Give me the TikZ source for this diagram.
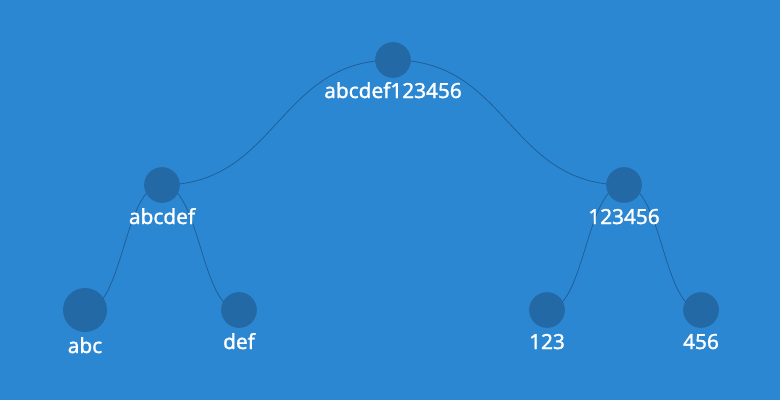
\documentclass[tikz,border=0pt]{standalone}
\usepackage{fontspec}
\setmainfont{Noto Sans}[BoldFont={Noto Sans}, BoldFeatures={FakeBold=1.3}]
\usetikzlibrary{positioning}

\definecolor{bgblue}{HTML}{2C87D3}
\definecolor{nodeblue}{HTML}{2369A6}
\definecolor{edgeblue}{HTML}{215F96}

\pgfdeclarelayer{edgelayer}
\pgfsetlayers{edgelayer,main}

\begin{document}
\begin{tikzpicture}[x=0.75pt,y=-0.75pt,
    treenode/.style={circle,
                     fill=nodeblue,
                     inner sep=0pt,
                     minimum size=26.8pt},
    bignode/.style={treenode,
                    minimum size=33pt},
    treelabel/.style={text=white,
                      font=\fontsize{15.6}{18}\selectfont\bfseries,
                      anchor=base,
                      inner sep=0pt},
    treeedge/.style={draw=edgeblue,
                     line width=0.6pt}]
%    \draw (0,0) -- (780,400);
    \useasboundingbox (0,0) rectangle (780,400);

    % circles
    \node[treenode] (root) at (393,60) {};
    \node[treenode] (abcdef) at (162,185) {};
    \node[treenode] (n123456) at (624,185) {};
    \node[bignode] (abc) at (85,310) {};
    \node[treenode] (def) at (239,310) {};
    \node[treenode] (n123) at (547,310) {};
    \node[treenode] (n456) at (701,310) {};

    % texts
    \node[treelabel] (root-text) at (393,98) {abcdef123456};
    \node[treelabel] (abcdef-text) at (162,224) {abcdef};
    \node[treelabel] (n123456-text) at (624,224) {123456};
    \node[treelabel] (abc-text) at (85,353) {abc};
    \node[treelabel] (def-text) at (239,349) {def};
    \node[treelabel] (n123-text) at (547,349) {123};
    \node[treelabel] (n456-text) at (701,349) {456};

    \begin{pgfonlayer}{edgelayer}
      \fill[bgblue] (0,0) rectangle (780,400);
      \draw[treeedge] (root.center) .. controls +(-115.5,0) and +(115.5,0) .. (abcdef.center);
      \draw[treeedge] (root.center) .. controls +(115.5,0) and +(-115.5,0) .. (n123456.center);
      \draw[treeedge] (abcdef.center) .. controls +(-38.5,0) and +(38.5,0) .. (abc.center);
      \draw[treeedge] (abcdef.center) .. controls +(38.5,0) and +(-38.5,0) .. (def.center);
      \draw[treeedge] (n123456.center) .. controls +(-38.5,0) and +(38.5,0) .. (n123.center);
      \draw[treeedge] (n123456.center) .. controls +(38.5,0) and +(-38.5,0) .. (n456.center);
    \end{pgfonlayer}
\end{tikzpicture}
\end{document}
